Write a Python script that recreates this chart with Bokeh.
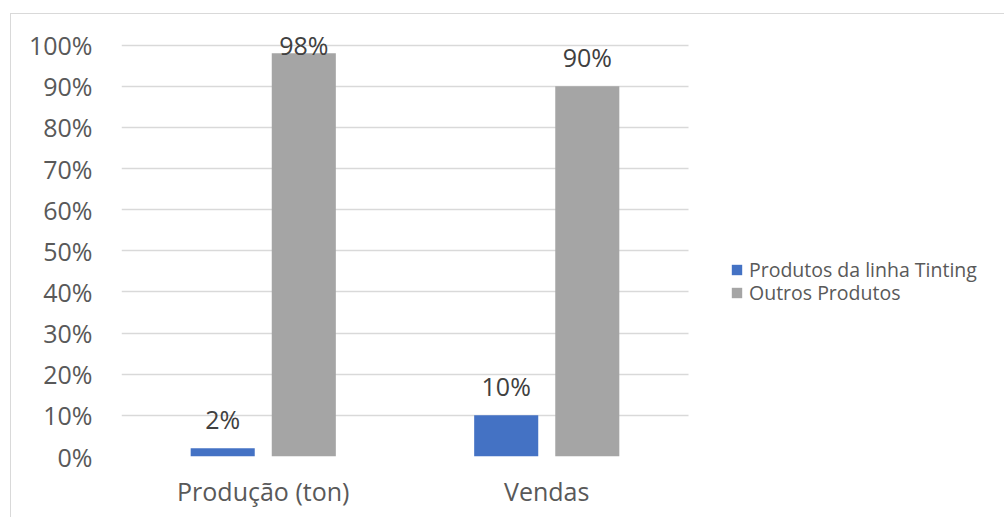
import numpy as np
from bokeh.plotting import figure
from bokeh.models import (ColumnDataSource, Range1d, NumeralTickFormatter,
                          FixedTicker, LabelSet, Legend, LegendItem)
from bokeh.core.properties import value
from bokeh.embed import file_html
from bokeh.resources import INLINE

# ---- data ----
categories = ["Produção (ton)", "Vendas"]
series_names = ["Produtos da linha Tinting", "Outros Produtos"]
tinting = [0.02, 0.10]
outros = [0.98, 0.90]
y_ticks = [0.0, 0.1, 0.2, 0.3, 0.4, 0.5, 0.6, 0.7, 0.8, 0.9, 1.0]

BLUE = "#4472C4"
GRAY = "#A5A5A5"
FONT = "Open Sans"

n = len(categories)
xc = np.arange(n) + 0.5          # category centres on a numeric axis
off = 0.143
bw = 0.226

src = ColumnDataSource(dict(
    x1=xc - off, x2=xc + off,
    tinting=tinting,
    outros=outros,
    tinting_lbl=[f"{round(v*100)}%" for v in tinting],
    outros_lbl=[f"{round(v*100)}%" for v in outros],
    tinting_ly=np.minimum(np.array(tinting) + 0.072, 1.0),
    outros_ly=np.minimum(np.array(outros) + 0.07, 1.0),
))

W, H = 994, 504
LEFT, TOP, BOTTOM = 110, 10, 62
frame_w = W - LEFT            # frame extends to the right edge (legend lives there)
cat_px = 567 / n              # pixel width of one category band
x_end = frame_w / cat_px

p = figure(x_range=Range1d(0, x_end), y_range=Range1d(0, 1.05),
           width=W, height=H,
           min_border_left=LEFT, min_border_right=0,
           min_border_top=TOP, min_border_bottom=BOTTOM,
           output_backend="svg", toolbar_location=None)
p.margin = (13, 0, 0, 10)
p.styles = {"border-top": "1px solid #D9D9D9", "border-left": "1px solid #D9D9D9"}

p.outline_line_color = None
p.background_fill_color = "white"
p.border_fill_color = "white"

r1 = p.vbar(x="x1", top="tinting", width=bw, source=src, fill_color=BLUE, line_color=None)
r2 = p.vbar(x="x2", top="outros", width=bw, source=src, fill_color=GRAY, line_color=None)

for xcol, col, lcol in [("x1", "tinting_ly", "tinting_lbl"), ("x2", "outros_ly", "outros_lbl")]:
    ls = LabelSet(x=xcol, y=col, text=lcol, source=src,
                  text_align="center", text_baseline="middle",
                  text_font=value(FONT), text_font_size=value("25px"),
                  text_color="#404040")
    p.add_layout(ls)

# axes
p.yaxis.ticker = FixedTicker(ticks=y_ticks)
p.yaxis.formatter = NumeralTickFormatter(format="0%")
p.yaxis.axis_line_color = None
p.yaxis.major_tick_line_color = None
p.yaxis.minor_tick_line_color = None
p.yaxis.major_tick_out = 0
p.yaxis.major_label_standoff = 29
p.yaxis.major_label_text_font = FONT
p.yaxis.major_label_text_font_size = "25px"
p.yaxis.major_label_text_color = "#595959"

p.xaxis.ticker = FixedTicker(ticks=list(xc))
p.xaxis.major_label_overrides = {float(x): c for x, c in zip(xc, categories)}
p.xaxis.axis_line_color = None
p.xaxis.major_tick_line_color = None
p.xaxis.minor_tick_line_color = None
p.xaxis.major_tick_out = 0
p.xaxis.major_label_standoff = 17
p.xaxis.major_label_text_font = FONT
p.xaxis.major_label_text_font_size = "25px"
p.xaxis.major_label_text_color = "#595959"

p.xgrid.grid_line_color = None
p.ygrid.grid_line_color = "#D9D9D9"
p.ygrid.grid_line_width = 1.3
p.ygrid.cross_bounds = (0, n)

# one legend per entry so the row spacing can match the reference
for name, rend, ly in [(series_names[0], r1, 173), (series_names[1], r2, 150)]:
    lg = Legend(items=[LegendItem(label=name, renderers=[rend])],
                location=(609, ly), orientation="vertical",
                glyph_width=13, glyph_height=13, label_standoff=6,
                label_height=13, padding=0, margin=0, spacing=0,
                label_text_font=FONT, label_text_font_size="19.5px",
                label_text_color="#595959", border_line_color=None,
                background_fill_alpha=0)
    p.add_layout(lg)

open("out.html", "w").write(file_html(p, INLINE))
